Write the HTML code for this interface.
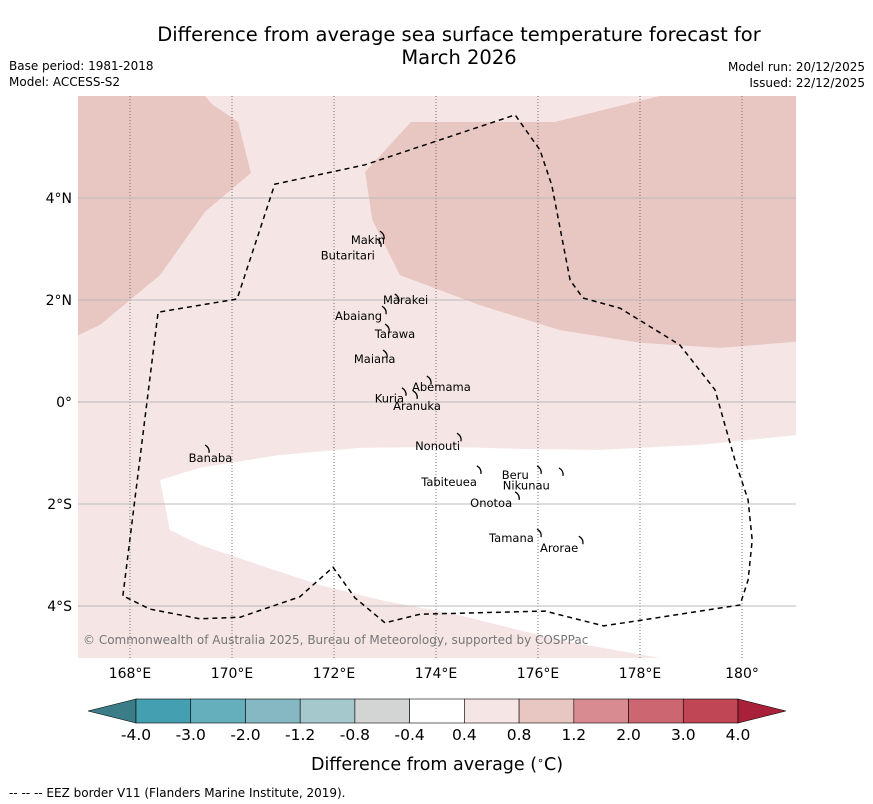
<!DOCTYPE html>
<html><head><meta charset="utf-8"><style>
body{margin:0;background:#fff;}
svg{display:block;font-family:"DejaVu Sans","Liberation Sans",sans-serif;}
</style></head><body>
<svg id="chart" width="873" height="804" viewBox="0 0 873 804">
<text x="459" y="41" font-size="19.5" text-anchor="middle">Difference from average sea surface temperature forecast for</text>
<text x="459" y="64" font-size="19.5" text-anchor="middle">March 2026</text>
<text x="9" y="70" font-size="12">Base period: 1981-2018</text>
<text x="9" y="86" font-size="12">Model: ACCESS-S2</text>
<text x="865" y="71" font-size="12" text-anchor="end">Model run: 20/12/2025</text>
<text x="865" y="87" font-size="12" text-anchor="end">Issued: 22/12/2025</text>
<defs><clipPath id="mapclip"><rect x="78" y="96" width="718" height="562"/></clipPath></defs>
<g id="map" clip-path="url(#mapclip)">
<rect x="78" y="96" width="718" height="562" fill="#f5e6e5"/>
</g>
<g id="axes"></g>
<text x="83" y="644" font-size="12" fill="#777">© Commonwealth of Australia 2025, Bureau of Meteorology, supported by COSPPac</text>
<g id="cbar"></g>
<text x="437" y="770" font-size="17.5" text-anchor="middle">Difference from average (<tspan baseline-shift="super" font-size="11">∘</tspan>C)</text>
<text x="9" y="797" font-size="12">--  --  -- EEZ border V11 (Flanders Marine Institute, 2019).</text>
</svg>
<script>
const lonTicks=[168,170,172,174,176,178,180];
const lonLabels=["168°E","170°E","172°E","174°E","176°E","178°E","180°"];
const latTicks=[4,2,0,-2,-4];
const latLabels=["4°N","2°N","0°","2°S","4°S"];
const darkWestLon=[166.98,169.47,169.61,170.12,170.37,169.47,168.59,167.41,166.98];
const darkWestLat=[6.0,6.0,5.84,5.49,4.49,3.73,2.49,1.51,1.31];
const darkEastLon=[172.61,173.51,176.33,178.39,181.06,181.06,179.57,178.0,176.43,174.86,173.29,172.75];
const darkEastLat=[4.51,5.49,5.49,6.0,6.0,1.18,1.06,1.16,1.41,1.90,2.49,3.57];
const whiteLon=[168.59,169.37,170.94,172.51,174.27,175.65,177.22,179.18,181.06,181.06,178.39,176.43,174.47,172.90,171.73,170.55,169.37,168.78];
const whiteLat=[-1.53,-1.29,-1.04,-0.90,-0.88,-0.92,-0.94,-0.84,-0.65,-5.02,-5.02,-4.67,-4.18,-3.88,-3.59,-3.20,-2.80,-2.51];
const eezLon=[167.86,168.55,170.10,170.84,172.61,175.55,176.04,176.27,176.63,176.88,177.61,178.78,179.47,179.86,180.12,180.20,180.12,179.96,177.29,176.14,173.69,173.00,172.41,171.98,171.33,170.16,169.37,168.39,167.86];
const eezLat=[-3.80,1.76,2.02,4.27,4.65,5.63,4.94,4.25,2.39,2.04,1.84,1.12,0.24,-1.14,-1.92,-2.71,-3.49,-3.98,-4.39,-4.10,-4.16,-4.33,-3.84,-3.24,-3.82,-4.22,-4.25,-4.06,-3.80];
const islandNames=["Makin","Butaritari","Marakei","Abaiang","Tarawa","Maiana","Abemama","Kuria","Aranuka","Nonouti","Banaba","Tabiteuea","Beru","Nikunau","Onotoa","Tamana","Arorae"];
const islandLon=[172.96,172.90,173.25,173.0,173.06,173.02,173.88,173.39,173.61,174.47,169.53,174.86,176.04,176.47,175.61,176.04,176.86];
const islandLat=[3.27,3.12,2.04,1.80,1.45,0.94,0.43,0.20,0.14,-0.69,-0.92,-1.33,-1.33,-1.37,-1.84,-2.57,-2.71];
const labelLon=[172.33,171.74,172.96,172.02,172.80,172.39,173.53,172.80,173.16,173.59,169.15,173.71,175.29,175.31,174.67,175.04,176.04];
const labelLat=[3.18,2.87,2.00,1.69,1.33,0.84,0.29,0.07,-0.08,-0.86,-1.10,-1.57,-1.43,-1.64,-1.98,-2.67,-2.86];
const cbBounds=["-4.0","-3.0","-2.0","-1.2","-0.8","-0.4","0.4","0.8","1.2","2.0","3.0","4.0"];
const cbColors=["#44a0b0","#65aebb","#85b8c2","#a5c8cc","#d3d5d5","#ffffff","#f5e6e5","#e8c6c1","#d88c92","#cc6670","#c04555"];

const NS="http://www.w3.org/2000/svg";
const X=lon=>130+(lon-168)*51;
const Y=lat=>402-lat*51;
function mk(tag,attrs,parent){const e=document.createElementNS(NS,tag);for(const k in attrs)e.setAttribute(k,attrs[k]);parent.appendChild(e);return e;}
const map=document.getElementById('map');
function poly(lons,lats,fill,name){
  const pts=lons.map((l,i)=>X(l).toFixed(1)+","+Y(lats[i]).toFixed(1)).join(" ");
  const p=mk('polygon',{points:pts,fill:fill},map);
  
  
}
poly(darkWestLon,darkWestLat,"#e8c6c1","anomaly-0.8-1.2-west");
poly(darkEastLon,darkEastLat,"#e8c6c1","anomaly-0.8-1.2-east");
poly(whiteLon,whiteLat,"#ffffff","anomaly-neutral-region");
const axes=document.getElementById('axes');
lonTicks.forEach((t,i)=>{
  const l=mk('line',{x1:X(t),x2:X(t),y1:96,y2:658,stroke:"#555","stroke-width":0.8,"stroke-dasharray":"1,2"},map);
  
  
  const tx=mk('text',{x:X(t),y:678,"font-size":14,"text-anchor":"middle"},axes);
  tx.textContent=lonLabels[i];
  
  
});
latTicks.forEach((t,i)=>{
  const l=mk('line',{x1:78,x2:796,y1:Y(t),y2:Y(t),stroke:"#bbb","stroke-width":1},map);
  
  
  const tx=mk('text',{x:72,y:Y(t)+5,"font-size":14,"text-anchor":"end"},axes);
  tx.textContent=latLabels[i];
  
  
});
const eez=mk('polyline',{points:eezLon.map((l,i)=>X(l).toFixed(1)+","+Y(eezLat[i]).toFixed(1)).join(" "),fill:"none",stroke:"#000","stroke-width":1.5,"stroke-dasharray":"5,4"},map);


islandNames.forEach((n,i)=>{
  const x=X(islandLon[i]),y=Y(islandLat[i]);
  const s=mk('path',{d:`M${x-3},${y-4} Q${x+2},${y-1} ${x+1},${y+4}`,fill:"none",stroke:"#000","stroke-width":1.3},map);
  
  
  const t=mk('text',{x:X(labelLon[i]),y:Y(labelLat[i])+4,"font-size":11.5},map);
  t.textContent=n;
  
  
});
const cb=document.getElementById('cbar');
const cx0=136,cw=(738-136)/cbColors.length,cy=699,ch=24;
const lt=mk('polygon',{points:`${cx0},${cy} ${cx0},${cy+ch} 88,${cy+ch/2}`,fill:"#3a7d88",stroke:"#000","stroke-width":0.6},cb);


cbColors.forEach((c,i)=>{
  const r=mk('rect',{x:cx0+i*cw,y:cy,width:cw,height:ch,fill:c,stroke:"#000","stroke-width":0.6},cb);
  
  
});
const rt=mk('polygon',{points:`738,${cy} 738,${cy+ch} 786,${cy+ch/2}`,fill:"#a8203a",stroke:"#000","stroke-width":0.6},cb);


cbBounds.forEach((b,i)=>{
  const t=mk('text',{x:cx0+i*cw,y:740,"font-size":15.5,"text-anchor":"middle"},cb);
  t.textContent=b;
  
  
});
</script>
</body></html>
